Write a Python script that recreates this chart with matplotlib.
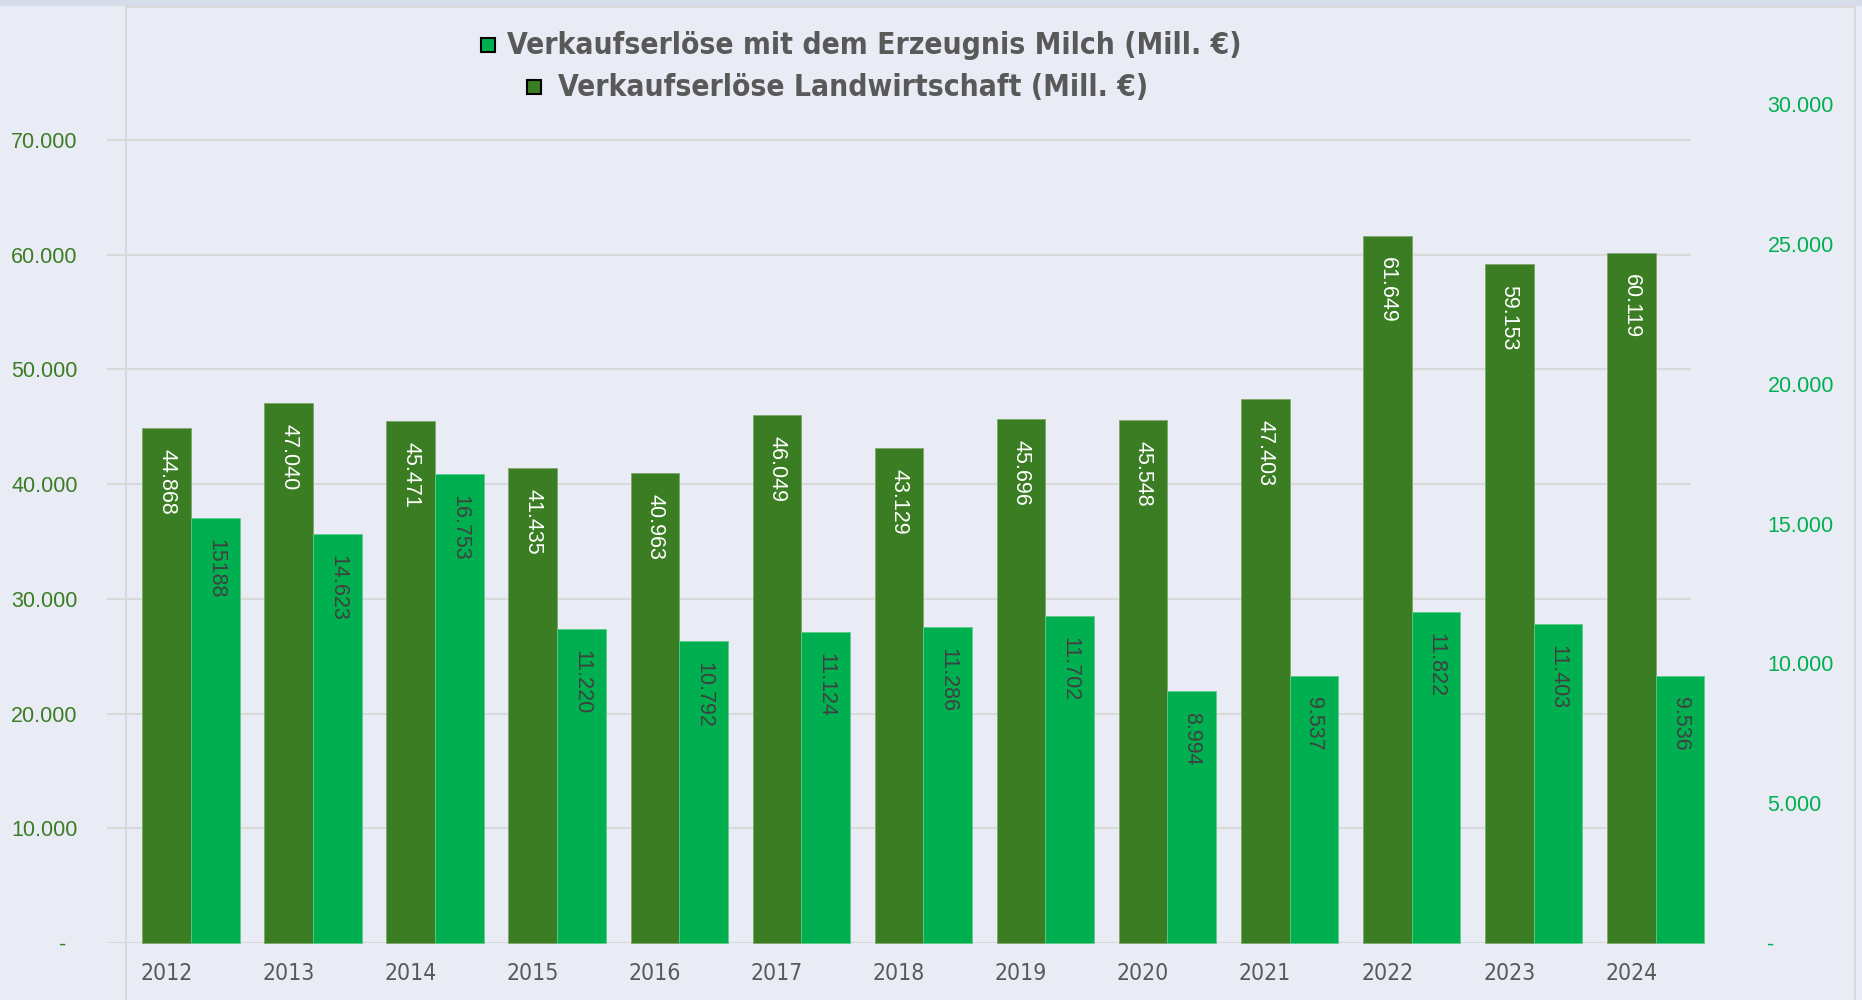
import matplotlib
matplotlib.use("Agg")
import matplotlib.pyplot as plt
from matplotlib.patches import Rectangle
from matplotlib.lines import Line2D

# Daten (Mill. €)
jahre = ["2012", "2013", "2014", "2015", "2016", "2017", "2018",
         "2019", "2020", "2021", "2022", "2023", "2024"]
landwirtschaft = [44868, 47040, 45471, 41435, 40963, 46049, 43129,
                  45696, 45548, 47403, 61649, 59153, 60119]
milch = [15188, 14623, 16753, 11220, 10792, 11124, 11286,
         11702, 8994, 9537, 11822, 11403, 9536]
landwirtschaft_labels = ["44.868", "47.040", "45.471", "41.435", "40.963", "46.049", "43.129",
                         "45.696", "45.548", "47.403", "61.649", "59.153", "60.119"]
milch_labels = ["15188", "14.623", "16.753", "11.220", "10.792", "11.124", "11.286",
                "11.702", "8.994", "9.537", "11.822", "11.403", "9.536"]
links_ticks = [0, 10000, 20000, 30000, 40000, 50000, 60000, 70000]
links_ticklabels = ["-  ", "10.000", "20.000", "30.000", "40.000", "50.000", "60.000", "70.000"]
rechts_ticks = [0, 5000, 10000, 15000, 20000, 25000, 30000]
rechts_ticklabels = ["-", "5.000", "10.000", "15.000", "20.000", "25.000", "30.000"]

dunkelgruen = "#3B7D23"
hellgruen = "#00B050"
grau = "#595959"
hintergrund = "#E9ECF5"
normal = ["Liberation Sans", "DejaVu Sans"]

W, H = 1862, 1000
fig = plt.figure(figsize=(W / 100, H / 100), dpi=100, facecolor=hintergrund)

# Rahmen oben / links / rechts wie im Original
fig.patches.append(Rectangle((0, 1 - 6 / H), 1, 6 / H, transform=fig.transFigure,
                             facecolor="#D6DCE9", edgecolor="none", zorder=0))
for (x0, y0, x1, y1) in [(126, 7, 1855, 7), (126, 7, 126, 1000), (1855, 7, 1855, 1000)]:
    fig.add_artist(Line2D([x0 / W, x1 / W], [1 - y0 / H, 1 - y1 / H],
                          transform=fig.transFigure, color="#D9D9D9", lw=1.5))

ax = fig.add_axes([107 / W, 1 - 943 / H, (1691 - 107) / W, (943 - 104) / H])
ax.set_facecolor("none")
ax2 = ax.twinx()
ax2.set_facecolor("none")

x = list(range(len(jahre)))
breite = 0.4

ax.bar(x, landwirtschaft, width=breite, color=dunkelgruen, edgecolor="#7FA86A",
       linewidth=0.6, clip_on=False, zorder=2)
ax2.bar([i + breite for i in x], milch, width=breite, color=hellgruen, edgecolor="#5CCB8A",
        linewidth=0.6, clip_on=False, zorder=2)

ax.set_xlim(-0.49, 12.49)
ax.set_ylim(0, 70000 * 839 / 803)
ax2.set_ylim(0, 30000)

ax.set_yticks(links_ticks)
ax.set_yticklabels(links_ticklabels, color=dunkelgruen, fontsize=15.5, family=normal)
ax2.set_yticks(rechts_ticks)
ax2.set_yticklabels(rechts_ticklabels, color=hellgruen, fontsize=15.5, family=normal)
ax.tick_params(axis="y", length=0, pad=21)
ax2.tick_params(axis="y", length=0, pad=55)

ax.set_xticks(x)
ax.set_xticklabels(jahre, color=grau, fontsize=16.5, family="DejaVu Sans", fontstretch="condensed")
ax.tick_params(axis="x", length=0, pad=14)

ax.grid(axis="y", color="#D9D9D9", linewidth=1.5)
ax.set_axisbelow(True)
for a in (ax, ax2):
    for s in a.spines.values():
        s.set_visible(False)

# Wertbeschriftungen innen oben, gedreht
for i in x:
    ax.annotate(landwirtschaft_labels[i], (i, landwirtschaft[i]), xytext=(0, -15),
                textcoords="offset points", rotation=270, ha="center", va="top",
                color="white", fontsize=15.5, family=normal, annotation_clip=False)
    ax2.annotate(milch_labels[i], (i + breite, milch[i]), xytext=(0, -15),
                 textcoords="offset points", rotation=270, ha="center", va="top",
                 color="#404040", fontsize=15.5, family=normal, annotation_clip=False)

# Legende von Hand, jede Zeile für sich zentriert
fig.patches.append(Rectangle((481 / W, 1 - 52 / H), 14 / W, 14 / H, transform=fig.transFigure,
                             facecolor=hellgruen, edgecolor="black", linewidth=1.5))
fig.text(507 / W, 1 - 45 / H, "Verkaufserlöse mit dem Erzeugnis Milch (Mill. €)",
         ha="left", va="center", fontsize=21.5, fontweight="bold", color=grau,
         family="DejaVu Sans", fontstretch="condensed")
fig.patches.append(Rectangle((527 / W, 1 - 94 / H), 14 / W, 14 / H, transform=fig.transFigure,
                             facecolor=dunkelgruen, edgecolor="black", linewidth=1.5))
fig.text(558 / W, 1 - 87 / H, "Verkaufserlöse Landwirtschaft (Mill. €)",
         ha="left", va="center", fontsize=21.5, fontweight="bold", color=grau,
         family="DejaVu Sans", fontstretch="condensed")

fig.savefig("out.png", dpi=100, facecolor=hintergrund)
